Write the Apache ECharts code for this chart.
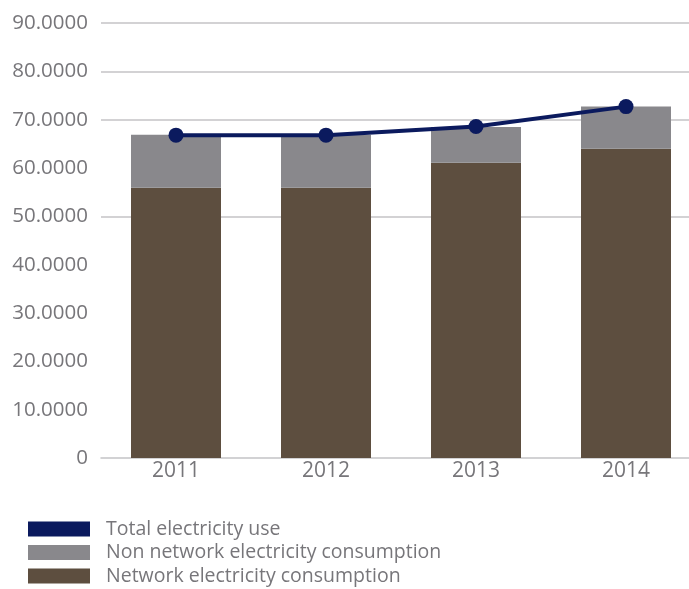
<!DOCTYPE html>
<html>
<head>
<meta charset="utf-8">
<script src="https://cdn.jsdelivr.net/npm/echarts@6/dist/echarts.min.js"></script>
<style>
html,body{margin:0;padding:0;background:#fff;}
#chart{width:689px;height:589px;}
</style>
</head>
<body>
<div id="chart"></div>
<script>
var categories = ['2011', '2012', '2013', '2014'];
var networkConsumption = [55.9, 55.9, 61.1, 64.0];
var nonNetworkConsumption = [11.0, 11.0, 7.4, 8.7];
var totalUse = [66.8, 66.8, 68.6, 72.7];
var yTicks = [0, 10, 20, 30, 40, 50, 60, 70, 80, 90];
var shownGridValues = [50, 70, 80, 90];

var FONT = '"Open Sans", sans-serif';
var TXT = '#77767a';

var gridColors = yTicks.map(function (v) {
  return shownGridValues.indexOf(v) >= 0 ? '#c4c3c6' : 'rgba(0,0,0,0)';
});

var chart = echarts.init(document.getElementById('chart'), null, {renderer: 'canvas'});
chart.setOption({
  animation: false,
  backgroundColor: '#ffffff',
  grid: {left: 101, top: 23, right: -12, bottom: 131, containLabel: false, outerBoundsMode: 'none'},
  legend: {
    orient: 'vertical',
    left: 28,
    top: 518,
    padding: 0,
    itemWidth: 62,
    itemHeight: 15,
    itemGap: 1.5,
    icon: 'rect',
    data: ['Total electricity use', 'Non network electricity consumption', 'Network electricity consumption'],
    textStyle: {fontFamily: FONT, fontSize: 19.5, lineHeight: 22, color: TXT, padding: [0, 0, 0, 11]}
  },
  xAxis: {
    type: 'category',
    data: categories,
    axisLine: {show: true, lineStyle: {color: '#c4c3c6', width: 1.5}},
    axisTick: {show: false},
    axisLabel: {fontFamily: FONT, fontSize: 21, color: TXT, margin: 3}
  },
  yAxis: {
    type: 'value',
    min: yTicks[0],
    max: yTicks[yTicks.length - 1],
    interval: 10,
    axisLine: {show: false},
    axisTick: {show: false},
    splitLine: {show: true, lineStyle: {color: gridColors, width: 1.5}},
    axisLabel: {
      fontFamily: FONT, fontSize: 20.5, color: TXT, margin: 13,
      formatter: function (v) { return v === 0 ? '0' : v.toFixed(4); }
    }
  },
  series: [
    {
      name: 'Network electricity consumption',
      type: 'bar',
      stack: 'use',
      data: networkConsumption,
      barCategoryGap: '40%',
      itemStyle: {color: '#5d4e3f'}
    },
    {
      name: 'Non network electricity consumption',
      type: 'bar',
      stack: 'use',
      data: nonNetworkConsumption,
      itemStyle: {color: '#89888c'}
    },
    {
      name: 'Total electricity use',
      type: 'line',
      data: totalUse,
      symbol: 'circle',
      symbolSize: 15,
      lineStyle: {color: '#0b1a5e', width: 4},
      itemStyle: {color: '#0b1a5e'},
      z: 5
    }
  ]
});
</script>
</body>
</html>
